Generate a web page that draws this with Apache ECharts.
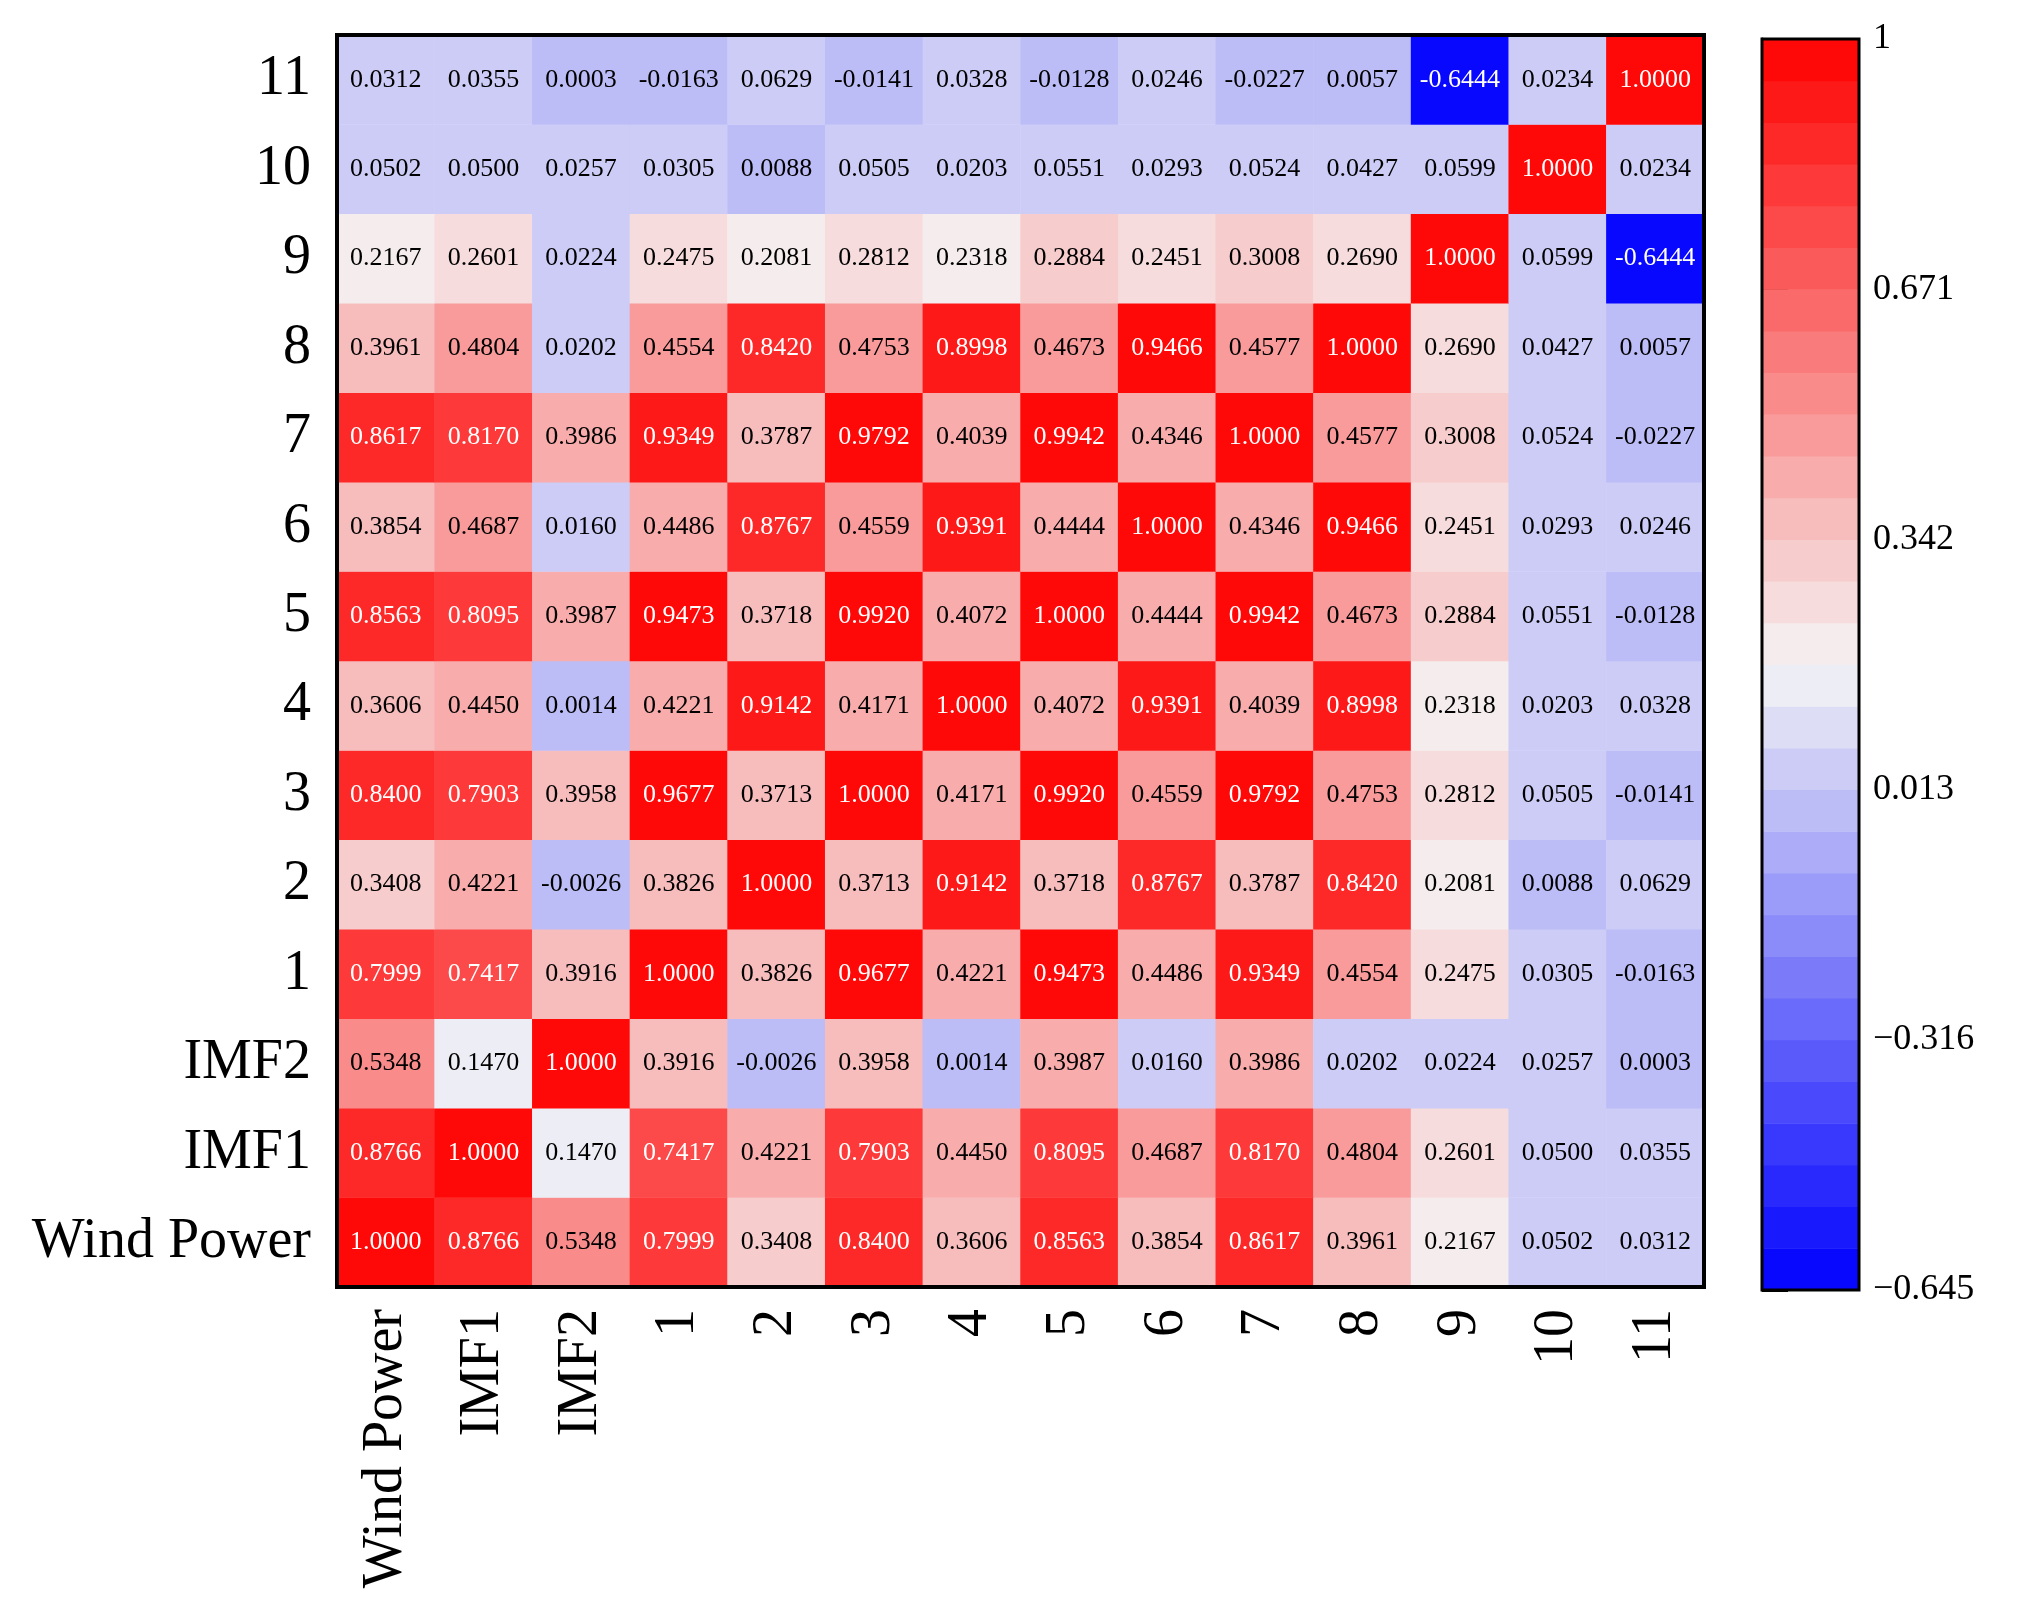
<!DOCTYPE html>
<html>
<head>
<meta charset="utf-8">
<script src="https://cdn.jsdelivr.net/npm/echarts@6/dist/echarts.min.js"></script>
<style>html,body{margin:0;padding:0;background:#fff}#chart{width:2028px;height:1609px}</style>
</head>
<body>
<div id="chart"></div>
<script>
var labels = ['Wind Power','IMF1','IMF2','1','2','3','4','5','6','7','8','9','10','11'];
// rows bottom to top, columns left to right
var rows = [
  [1.0000,0.8766,0.5348,0.7999,0.3408,0.8400,0.3606,0.8563,0.3854,0.8617,0.3961,0.2167,0.0502,0.0312],
  [0.8766,1.0000,0.1470,0.7417,0.4221,0.7903,0.4450,0.8095,0.4687,0.8170,0.4804,0.2601,0.0500,0.0355],
  [0.5348,0.1470,1.0000,0.3916,-0.0026,0.3958,0.0014,0.3987,0.0160,0.3986,0.0202,0.0224,0.0257,0.0003],
  [0.7999,0.7417,0.3916,1.0000,0.3826,0.9677,0.4221,0.9473,0.4486,0.9349,0.4554,0.2475,0.0305,-0.0163],
  [0.3408,0.4221,-0.0026,0.3826,1.0000,0.3713,0.9142,0.3718,0.8767,0.3787,0.8420,0.2081,0.0088,0.0629],
  [0.8400,0.7903,0.3958,0.9677,0.3713,1.0000,0.4171,0.9920,0.4559,0.9792,0.4753,0.2812,0.0505,-0.0141],
  [0.3606,0.4450,0.0014,0.4221,0.9142,0.4171,1.0000,0.4072,0.9391,0.4039,0.8998,0.2318,0.0203,0.0328],
  [0.8563,0.8095,0.3987,0.9473,0.3718,0.9920,0.4072,1.0000,0.4444,0.9942,0.4673,0.2884,0.0551,-0.0128],
  [0.3854,0.4687,0.0160,0.4486,0.8767,0.4559,0.9391,0.4444,1.0000,0.4346,0.9466,0.2451,0.0293,0.0246],
  [0.8617,0.8170,0.3986,0.9349,0.3787,0.9792,0.4039,0.9942,0.4346,1.0000,0.4577,0.3008,0.0524,-0.0227],
  [0.3961,0.4804,0.0202,0.4554,0.8420,0.4753,0.8998,0.4673,0.9466,0.4577,1.0000,0.2690,0.0427,0.0057],
  [0.2167,0.2601,0.0224,0.2475,0.2081,0.2812,0.2318,0.2884,0.2451,0.3008,0.2690,1.0000,0.0599,-0.6444],
  [0.0502,0.0500,0.0257,0.0305,0.0088,0.0505,0.0203,0.0551,0.0293,0.0524,0.0427,0.0599,1.0000,0.0234],
  [0.0312,0.0355,0.0003,-0.0163,0.0629,-0.0141,0.0328,-0.0128,0.0246,-0.0227,0.0057,-0.6444,0.0234,1.0000]
];
var barTicks = ['\u22120.645','\u22120.316','0.013','0.342','0.671','1'];
var vmin = -0.645, vmax = 1, nSteps = 30;

function stepColor(v) {
  var k = Math.floor((v - vmin) / (vmax - vmin) * nSteps);
  if (k >= nSteps) k = nSteps - 1;
  if (k < 0) k = 0;
  var t = (k + 0.5) / nSteps; // 0 blue, 0.5 white, 1 red
  var r, g, b;
  if (t < 0.5) {
    var s = t / 0.5;
    r = Math.round(245 * s); g = Math.round(245 * s); b = Math.round(255 - 10 * s);
  } else {
    var s2 = (t - 0.5) / 0.5;
    r = Math.round(245 + 10 * s2); g = Math.round(245 * (1 - s2)); b = Math.round(245 * (1 - s2));
  }
  return 'rgb(' + r + ',' + g + ',' + b + ')';
}

var cells = [];
rows.forEach(function (row, y) {
  row.forEach(function (v, x) {
    cells.push({
      value: [x, y, v],
      itemStyle: { color: stepColor(v) },
      label: { color: (v > 0.6 || v < -0.6) ? '#fff' : '#000' }
    });
  });
});

var bands = [];
for (var i = 0; i < nSteps; i++) {
  var lo = vmin + (vmax - vmin) * i / nSteps;
  var hi = vmin + (vmax - vmin) * (i + 1) / nSteps;
  bands.push([lo, hi]);
}
function toBar(v) { return (v - vmin) / (vmax - vmin) * 5; }

var font = 'Liberation Serif';
var chart = echarts.init(document.getElementById('chart'));
chart.setOption({
  backgroundColor: '#fff',
  animation: false,
  grid: [
    { left: 337, top: 35, width: 1367, height: 1252, show: true, borderColor: '#000', borderWidth: 4, z: 10 },
    { left: 1762, top: 39, width: 97, height: 1251, show: true, borderColor: '#000', borderWidth: 3, z: 10 }
  ],
  xAxis: [
    { type: 'category', data: labels, gridIndex: 0, axisLine: { show: false }, axisTick: { show: false },
      splitLine: { show: false },
      axisLabel: { rotate: 90, fontFamily: font, fontSize: 56, color: '#000', margin: 22, interval: 0 } },
    { type: 'value', gridIndex: 1, min: 0, max: 1, show: false }
  ],
  yAxis: [
    { type: 'category', data: labels, gridIndex: 0, axisLine: { show: false }, axisTick: { show: false },
      splitLine: { show: false },
      axisLabel: { fontFamily: font, fontSize: 56, color: '#000', margin: 26, interval: 0 } },
    { type: 'value', gridIndex: 1, position: 'right', min: 0, max: 5, interval: 1,
      axisLine: { show: true, lineStyle: { color: '#000', width: 3 } },
      axisTick: { show: true, length: 26, lineStyle: { color: '#000', width: 3 } },
      splitLine: { show: false },
      axisLabel: { fontFamily: font, fontSize: 36, color: '#000', margin: 14,
        formatter: function (v) { return barTicks[Math.round(v)]; } } }
  ],
  series: [
    { type: 'heatmap', xAxisIndex: 0, yAxisIndex: 0, data: cells,
      label: { show: true, fontFamily: font, fontSize: 26,
        formatter: function (p) { return p.value[2].toFixed(4); } } },
    { type: 'custom', xAxisIndex: 1, yAxisIndex: 1, data: bands,
      renderItem: function (params, api) {
        var lo = api.value(0), hi = api.value(1);
        var p0 = api.coord([0, toBar(lo)]);
        var p1 = api.coord([1, toBar(hi)]);
        return { type: 'rect',
          shape: { x: p0[0], y: p1[1], width: p1[0] - p0[0], height: p0[1] - p1[1] + 0.5 },
          style: { fill: stepColor((lo + hi) / 2) } };
      } }
  ]
});
</script>
</body>
</html>
